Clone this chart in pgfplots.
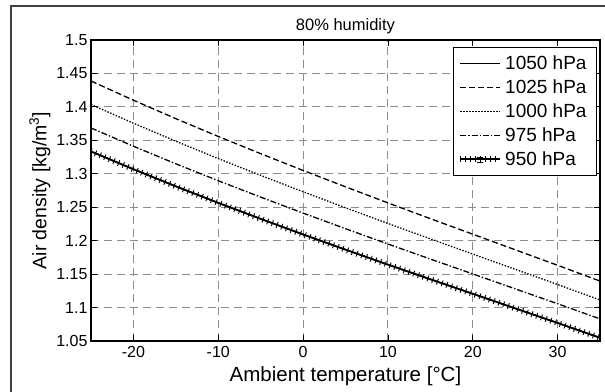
\documentclass[border=0pt]{standalone}
\usepackage{fontspec}
\setmainfont{Liberation Sans}
\usepackage{pgfplots}
\usepackage{pgfplotstable}
\pgfplotsset{compat=1.18}
\usetikzlibrary{decorations.pathreplacing}
\pgfplotstableread{
t     r1050  r1025  r1000  r975   r950
-25   1.3334 1.4387 1.4036 1.3685 1.3334
-20   1.3068 1.4100 1.3756 1.3412 1.3068
-15   1.2812 1.3824 1.3487 1.3149 1.2812
-10   1.2565 1.3558 1.3227 1.2896 1.2565
-5    1.2326 1.3301 1.2976 1.2651 1.2326
0     1.2093 1.3050 1.2731 1.2412 1.2093
5     1.1866 1.2805 1.2492 1.2179 1.1866
10    1.1642 1.2565 1.2257 1.1950 1.1642
15    1.1423 1.2329 1.2027 1.1725 1.1423
20    1.1206 1.2097 1.1800 1.1503 1.1206
25    1.0988 1.1864 1.1572 1.1280 1.0988
30    1.0770 1.1632 1.1345 1.1057 1.0770
35    1.0548 1.1396 1.1113 1.0831 1.0548
}\dens
\begin{document}
\begin{tikzpicture}[x=1pt,y=1pt]
\useasboundingbox (0,0) rectangle (605,391);
\draw[line width=1.6pt, black!75] (11,-5) -- (11,385) -- (610,385);
\begin{axis}[
  at={(91pt,50pt)}, anchor=south west,
  scale only axis, width=509pt, height=301pt,
  xmin=-25, xmax=35, ymin=1.05, ymax=1.5,
  xtick={-20,-10,0,10,20,30},
  ytick={1.05,1.1,1.15,1.2,1.25,1.3,1.35,1.4,1.45,1.5},
  yticklabels={1.05,1.1,1.15,1.2,1.25,1.3,1.35,1.4,1.45,1.5},
  /pgf/number format/assume math mode=true,
  tick label style={font=\fontsize{16}{18}\selectfont},
  xticklabel style={yshift=-2pt},
  xlabel style={font=\fontsize{20.5}{22}\selectfont, yshift=-2pt},
  ylabel style={font=\fontsize{19.5}{21}\selectfont, yshift=-1pt},
  xlabel={Ambient temperature [\textdegree C]},
  ylabel={Air density [kg/m\textsuperscript{3}]},
  title={80\% humidity},
  title style={font=\fontsize{16.5}{18}\selectfont, yshift=-3pt},
  grid=major,
  major grid style={black!45, dash pattern=on 8pt off 5pt, line width=0.9pt},
  axis line style={line width=1.1pt},
  tick align=inside, major tick length=6pt,
  tick style={black, line width=0.8pt},
  legend style={at={(0.994,0.977)}, anchor=north east, draw=black, line width=0.8pt,
    font=\fontsize{19}{21.5}\selectfont, inner xsep=6pt, inner ysep=4pt,
    nodes={inner xsep=4pt, inner ysep=1pt, minimum height=24pt}},
  legend cell align=left,
  legend image code/.code={\draw[#1] (0pt,0pt) -- (40pt,0pt);},
]
\addplot[black, line width=1.3pt] table[x=t, y=r1050] {\dens};
\addlegendentry{1050 hPa}
\addplot[black, line width=1.3pt, dash pattern=on 6pt off 3pt] table[x=t, y=r1025] {\dens};
\addlegendentry{1025 hPa}
\addplot[black, line width=1.3pt, dash pattern=on 1.4pt off 1.6pt] table[x=t, y=r1000] {\dens};
\addlegendentry{1000 hPa}
\addplot[black, line width=1.3pt, dash pattern=on 6pt off 2pt on 1.4pt off 2pt] table[x=t, y=r975] {\dens};
\addlegendentry{975 hPa}
\addplot[black, line width=1.8pt,
  postaction={decorate, draw, line width=0.9pt, decoration={ticks, segment length=5pt, amplitude=3pt}},
  legend image code/.code={\draw[black, line width=1.8pt] (0pt,0pt) -- (40pt,0pt); \draw[black, line width=0.9pt] (20pt,-3pt) -- (20pt,3pt);}
  ] table[x=t, y=r950] {\dens};
\addlegendentry{950 hPa}
\end{axis}
\end{tikzpicture}
\end{document}
